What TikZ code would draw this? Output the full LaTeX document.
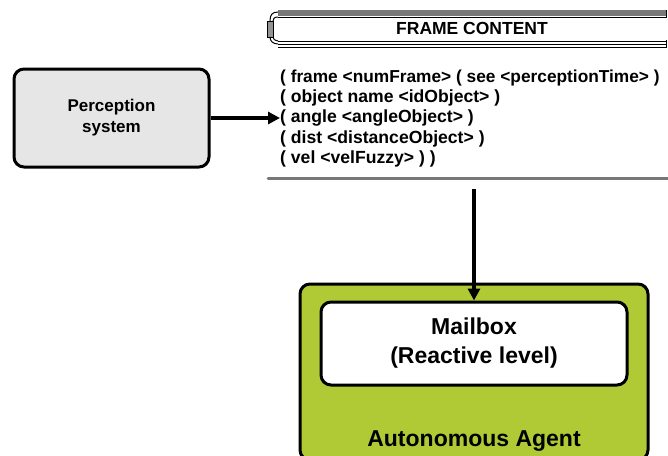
\documentclass[tikz,border=0pt]{standalone}
\usepackage{fontspec}
\setmainfont{Liberation Sans}
\usetikzlibrary{arrows.meta,positioning}

\definecolor{agentgreen}{RGB}{175,202,52}
\definecolor{percgray}{RGB}{230,230,230}
\definecolor{bandgray}{RGB}{120,120,120}

\tikzset{
  box/.style={draw,line width=3pt,rounded corners=10pt,inner sep=0pt},
  flow/.style={line width=3.5pt,-{Triangle[length=12pt,width=12pt]}},
}

\begin{document}
\begin{tikzpicture}[x=1pt,y=-1pt,font=\bfseries]
  \clip (0,0) rectangle (668,455);
  \fill[white] (0,0) rectangle (668,455);
  % boxes
  \node (percep) at (111.5,118) [box,fill=percgray,minimum width=195pt,minimum height=98pt,align=center,font=\bfseries\fontsize{17}{21}\selectfont] {Perception\\system};
  \node (agent) at (474,372) [box,fill=agentgreen,minimum width=348pt,minimum height=176pt] {};
  \node (mailbox) at (474,343.5) [box,fill=white,minimum width=306pt,minimum height=83pt,align=center,font=\bfseries\fontsize{23}{29}\selectfont] {Mailbox\\(Reactive level)};
  \node (agentlbl) at (474,441) [font=\bfseries\fontsize{23}{28}\selectfont] {Autonomous Agent};
  % frame banner
  \fill[bandgray] (278,10) rectangle (666,15.5);
  \draw[line width=1pt] (278,17) -- (666,17);
  \draw[line width=1pt] (278,41) -- (666,41);
  \draw[line width=1pt] (278,44) -- (666,44);
  \draw[line width=1pt] (278,47) -- (666,47);
  \fill[bandgray!80] (267,21) rectangle (273,37);
  \draw[line width=1pt] (267,21) rectangle (273,37);
  \draw[line width=1pt] (278,12) .. controls (272,12) and (270,15) .. (270,21);
  \draw[line width=1pt] (278,17) .. controls (274,17) and (273,19) .. (273,21);
  \draw[line width=1pt] (270,37) .. controls (270,41) and (273,44) .. (278,44);
  \draw[line width=1pt] (273,37) .. controls (273,39) and (275,41) .. (278,41);
  \draw[line width=1pt] (666,10) -- (666,18) (666,40) -- (666,48);
  \node (title) at (472,28) [font=\bfseries\fontsize{17.5}{21}\selectfont] {FRAME CONTENT};
  \node (frametext) at (280,118.5) [anchor=west,inner sep=0pt,align=left,font=\bfseries\fontsize{17.6}{20.2}\selectfont]
    {{\fontsize{17.3}{20.2}\selectfont ( frame <numFrame> ( see <perceptionTime> )}\\
     ( object name <idObject> )\\
     ( angle <angleObject> )\\
     ( dist <distanceObject> )\\
     ( vel <velFuzzy> ) )};
  \draw[bandgray,line width=3pt,line cap=round] (268,178) -- (668,178);
  \coordinate (below) at (474,189);
  % connectors
  \draw[flow] (percep.east) -- (percep.east -| frametext.west);
  \draw[flow] (below) -- (mailbox.north);
\end{tikzpicture}
\end{document}
